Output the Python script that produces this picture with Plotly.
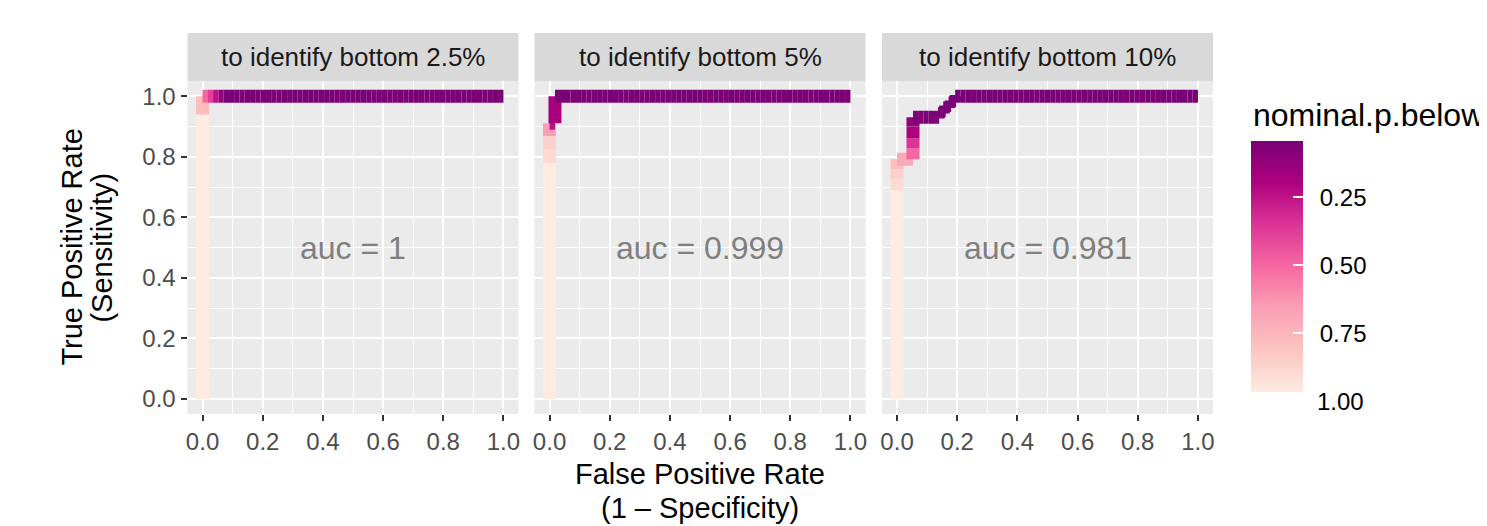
import plotly.graph_objects as go
from plotly.colors import sample_colorscale

W, H = 1487, 526
OFF = 8  # the page body adds an 8px margin; positions below are page pixels
FONT = "Liberation Sans, Arial, Helvetica, sans-serif"

panel_titles = ["to identify bottom 2.5%", "to identify bottom 5%", "to identify bottom 10%"]
auc_labels = ["auc = 1", "auc = 0.999", "auc = 0.981"]

# ROC steps along the top plateau (FPR values), shared by the three panels
tail_fpr = [0.070, 0.088, 0.105, 0.123, 0.140, 0.158, 0.175, 0.193, 0.211, 0.228,
            0.246, 0.263, 0.281, 0.298, 0.316, 0.333, 0.351, 0.368, 0.386, 0.404,
            0.421, 0.439, 0.456, 0.474, 0.491, 0.509, 0.526, 0.544, 0.561, 0.579,
            0.596, 0.614, 0.632, 0.649, 0.667, 0.684, 0.702, 0.719, 0.737, 0.754,
            0.772, 0.789, 0.807, 0.825, 0.842, 0.860, 0.877, 0.895, 0.912, 0.930,
            0.947, 0.965, 0.982, 1.000]
tail_p = 0.045  # nominal.p.below along the plateau

# panel 1: bottom 2.5%
fpr_1 = [0, 0, 0, 0.018, 0.035, 0.053]
tpr_1 = [0, 0.94, 1.0, 1.0, 1.0, 1.0]
p_1 = [0.97, 0.78, 0.50, 0.38, 0.25, 0.12]

# panel 2: bottom 5%
fpr_2 = [0, 0, 0, 0, 0, 0.018, 0.018]
tpr_2 = [0, 0.78, 0.826, 0.869, 0.911, 0.911, 1.0]
p_2 = [0.97, 0.90, 0.86, 0.66, 0.24, 0.18, 0.045]

# panel 3: bottom 10%
fpr_3 = [0, 0, 0, 0, 0, 0.053, 0.053, 0.053, 0.053, 0.053, 0.070, 0.088, 0.105,
         0.123, 0.140, 0.140, 0.158, 0.158, 0.175, 0.175, 0.193, 0.193]
tpr_3 = [0, 0.69, 0.727, 0.759, 0.792, 0.792, 0.828, 0.861, 0.900, 0.931, 0.931,
         0.931, 0.931, 0.931, 0.931, 0.948, 0.948, 0.965, 0.965, 0.983, 0.983, 1.0]
p_3 = [0.97, 0.90, 0.86, 0.78, 0.70, 0.50, 0.35, 0.20, 0.11, 0.05, 0.05, 0.05,
       0.05, 0.05, 0.05, 0.05, 0.05, 0.05, 0.05, 0.05, 0.05, 0.045]

panels = [(fpr_1, tpr_1, p_1), (fpr_2, tpr_2, p_2), (fpr_3, tpr_3, p_3)]

colorbar_ticks = [0.25, 0.50, 0.75, 1.00]
P_LOW, P_HIGH = 0.042, 0.966   # colour scale limits

RDPU = [[0.0, "#FEEBE2"], [1 / 6, "#FCC5C0"], [2 / 6, "#FA9FB5"], [3 / 6, "#F768A1"],
        [4 / 6, "#DD3497"], [5 / 6, "#AE017E"], [1.0, "#7A0177"]]


def px(x):
    return (x - OFF) / W


def py(y):
    return 1 - (y - OFF) / H


x_dom = [(187.5, 518.5), (534.5, 865.5), (882.0, 1213.0)]
y_dom = (81.2, 414.1)

fig = go.Figure()

for k, (fpr, tpr, p) in enumerate(panels):
    xs = list(fpr) + [f for f in tail_fpr if f > fpr[-1]]
    ys = list(tpr) + [1.0] * (len(xs) - len(fpr))
    ps = list(p) + [tail_p] * (len(xs) - len(fpr))
    xa = "x" if k == 0 else f"x{k + 1}"
    ya = "y" if k == 0 else f"y{k + 1}"
    for i in range(len(xs) - 1):
        t = (P_HIGH - ps[i]) / (P_HIGH - P_LOW)
        t = min(max(t, 0.0), 1.0)
        col = sample_colorscale(RDPU, [t])[0]
        fig.add_trace(go.Scatter(
            x=[xs[i], xs[i + 1]], y=[ys[i], ys[i + 1]], mode="lines",
            line=dict(color=col, width=13), xaxis=xa, yaxis=ya,
            hoverinfo="skip", showlegend=False))

# colour bar (reversed: small p at top)
bar_top, bar_bot = 141.0, 391.7
NB = "\u00a0"
fig.add_trace(go.Scatter(
    x=[None], y=[None], mode="markers", xaxis="x3", yaxis="y3", showlegend=False,
    hoverinfo="skip",
    marker=dict(color=[-0.5], colorscale=RDPU, cmin=-P_HIGH, cmax=-P_LOW, showscale=True,
                colorbar=dict(x=px(1251), xanchor="left", y=py((bar_top + bar_bot) / 2),
                              yanchor="middle", len=bar_bot - bar_top, lenmode="pixels",
                              thickness=52, thicknessmode="pixels", outlinewidth=0,
                              xpad=0, ypad=0,
                              tickvals=[-v for v in colorbar_ticks[:3]],
                              ticktext=[NB + "\u2009" + f"{v:.2f}" for v in colorbar_ticks[:3]],
                              ticks="inside", ticklen=10, tickcolor="white", tickwidth=1.5,
                              tickfont=dict(size=24, color="#000000", family=FONT)))))

layout = dict(width=W, height=H, margin=dict(l=0, r=0, t=0, b=0),
              paper_bgcolor="white", plot_bgcolor="#EBEBEB", showlegend=False,
              font=dict(family=FONT))

axis_common = dict(range=[-0.05, 1.05], tick0=0, dtick=0.2, tickformat=".1f",
                   showgrid=True, gridcolor="white", gridwidth=2,
                   minor=dict(tick0=0, dtick=0.1, showgrid=True, gridcolor="white", gridwidth=1),
                   ticks="outside", ticklen=6, tickwidth=1.5, tickcolor="#333333",
                   tickfont=dict(size=24, color="#4D4D4D", family=FONT),
                   zeroline=False, showline=False, fixedrange=True, automargin=False)

for k in range(3):
    xname = "xaxis" if k == 0 else f"xaxis{k + 1}"
    yname = "yaxis" if k == 0 else f"yaxis{k + 1}"
    anchor_y = "y" if k == 0 else f"y{k + 1}"
    anchor_x = "x" if k == 0 else f"x{k + 1}"
    layout[xname] = dict(axis_common, domain=[px(x_dom[k][0]), px(x_dom[k][1])], anchor=anchor_y)
    ya = dict(axis_common, domain=[py(y_dom[1]), py(y_dom[0])], anchor=anchor_x)
    if k > 0:
        ya.update(showticklabels=False, ticks="")
    layout[yname] = ya

fig.update_layout(**layout)

# facet strips
for k in range(3):
    fig.add_shape(type="rect", xref="paper", yref="paper",
                  x0=px(x_dom[k][0]), x1=px(x_dom[k][1]), y0=py(y_dom[0]), y1=py(33),
                  fillcolor="#D9D9D9", line=dict(width=0), layer="below")
    fig.add_annotation(xref="paper", yref="paper", x=px((x_dom[k][0] + x_dom[k][1]) / 2),
                       y=py(57), text=panel_titles[k], showarrow=False,
                       xanchor="center", yanchor="middle",
                       font=dict(size=26, color="#1A1A1A", family=FONT))
    fig.add_annotation(xref="x" if k == 0 else f"x{k + 1}",
                       yref="y" if k == 0 else f"y{k + 1}",
                       x=0.5, y=0.5, text=auc_labels[k], showarrow=False,
                       xanchor="center", yanchor="middle",
                       font=dict(size=32, color="#7F7F7F", family=FONT))

# axis titles (one annotation per line)
for txt, yc in [("False Positive Rate", 474), ("(1 – Specificity)", 508)]:
    fig.add_annotation(xref="paper", yref="paper", x=px(700), y=py(yc), text=txt,
                       showarrow=False, xanchor="center", yanchor="middle",
                       font=dict(size=29, color="#000000", family=FONT))
for txt, xc in [("True Positive Rate", 72), ("(Sensitivity)", 102)]:
    fig.add_annotation(xref="paper", yref="paper", x=px(xc), y=py(247.6), text=txt,
                       showarrow=False, textangle=-90, xanchor="center", yanchor="middle",
                       font=dict(size=29, color="#000000", family=FONT))

# legend title and last colour bar label
fig.add_annotation(xref="paper", yref="paper", x=px(1251), y=py(115),
                   text="nominal.p.below", showarrow=False, xanchor="left", yanchor="middle",
                   font=dict(size=32, color="#000000", family=FONT))
fig.add_annotation(xref="paper", yref="paper", x=px(1315), y=py(401.7),
                   text=f"{colorbar_ticks[3]:.2f}", showarrow=False, xanchor="left",
                   yanchor="middle", font=dict(size=24, color="#000000", family=FONT))

fig.write_html("out.html")
